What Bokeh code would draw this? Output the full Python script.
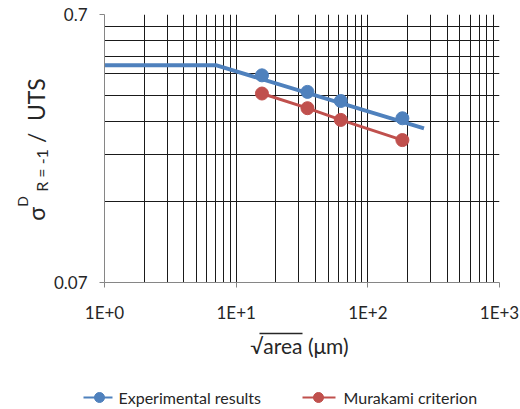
import math
from bokeh.plotting import figure
from bokeh.layouts import column, row
from bokeh.models import FixedTicker
from bokeh.core.properties import value
from bokeh.embed import file_html
from bokeh.resources import INLINE

# ---- data ----
size_um = [15.7, 34.8, 62.3, 183.0]          # sqrt(area) in micrometres
experimental = [0.415, 0.360, 0.333, 0.287]   # experimental results
murakami = [0.355, 0.313, 0.283, 0.238]       # Murakami criterion
model_x = [1.0, 7.0, 267.0]                   # blue model curve
model_y = [0.453, 0.453, 0.263]

x_major = [1, 10, 100, 1000]
x_labels = ["1E+0", "1E+1", "1E+2", "1E+3"]
x_minor = [2, 3, 4, 5, 6, 7, 8, 9, 20, 30, 40, 50, 60, 70, 80, 90,
           200, 300, 400, 500, 600, 700, 800, 900]
y_major = [0.07, 0.7]
y_labels = ["0.07", "0.7"]
y_minor = [0.14, 0.21, 0.28, 0.35, 0.42, 0.49, 0.56, 0.63]

series_names = ["Experimental results", "Murakami criterion"]

BLUE = "#4F81BD"
RED = "#C0504D"
TXT = "#262626"
FONT = "Lato"

LEFT_W, TOP_H, BOT_H, TOTAL_W = 50, 325, 84, 520
FRAME_TOP, FRAME_BOTTOM = 14, 283


def blank(width, height, yspan, **kw):
    f = figure(width=width, height=height, x_range=(0, width), y_range=(0, yspan),
               x_axis_type=None, y_axis_type=None, output_backend="svg",
               toolbar_location=None, **kw)
    f.outline_line_color = None
    f.background_fill_color = "white"
    f.border_fill_color = "white"
    return f


# ---- main chart ----
p = figure(width=TOTAL_W - LEFT_W, height=TOP_H, x_axis_type="log", y_axis_type="log",
           x_range=(1, 1000), y_range=(0.07, 0.7),
           output_backend="svg", toolbar_location=None,
           min_border_left=103 - LEFT_W, min_border_right=21,
           min_border_top=FRAME_TOP, min_border_bottom=TOP_H - FRAME_BOTTOM)
p.outline_line_color = None
p.background_fill_color = "white"

xt = FixedTicker(ticks=x_major, minor_ticks=x_minor)
yt = FixedTicker(ticks=y_major, minor_ticks=y_minor)
p.xaxis.ticker = xt
p.yaxis.ticker = yt
p.xgrid.ticker = xt
p.ygrid.ticker = yt
p.xaxis.major_label_overrides = dict(zip(x_major, x_labels))
p.yaxis.major_label_overrides = dict(zip(y_major, y_labels))

for ax in (p.xaxis[0], p.yaxis[0]):
    ax.axis_line_color = "#868686"
    ax.major_tick_line_color = "#868686"
    ax.major_tick_out = 5
    ax.major_tick_in = 0
    ax.minor_tick_out = 0
    ax.minor_tick_in = 0
    ax.major_label_text_font = FONT
    ax.major_label_text_font_size = "17px"
    ax.major_label_text_color = TXT
p.xaxis.major_label_standoff = 14
p.yaxis.major_label_standoff = 12

for g in (p.xgrid[0], p.ygrid[0]):
    g.grid_line_color = "#1a1a1a"
    g.grid_line_width = 1
    g.minor_grid_line_color = "#1a1a1a"
    g.minor_grid_line_width = 1

p.line(size_um, murakami, line_color=RED, line_width=3)
p.scatter(size_um, murakami, size=13, fill_color=RED, line_color=RED)
p.line(model_x, model_y, line_color=BLUE, line_width=4)
p.scatter(size_um, experimental, size=13, fill_color=BLUE, line_color=BLUE)

# ---- y-axis title: sigma^D_{R = -1} / UTS (rotated) ----
# this panel's frame is aligned with the chart frame (image y 14..283)
yt_fig = blank(LEFT_W, TOP_H, FRAME_BOTTOM - FRAME_TOP,
               min_border_left=0, min_border_right=0,
               min_border_top=FRAME_TOP, min_border_bottom=TOP_H - FRAME_BOTTOM)
pieces = [("σ", 35, 221, 23), ("D", 22, 207, 14), ("R = -1", 41, 192, 16),
          ("/", 35, 143, 23), ("UTS", 35, 121, 23)]
for txt, ix, iy, sz in pieces:
    yt_fig.text(x=[ix], y=[FRAME_BOTTOM - iy], text=[txt], angle=math.pi / 2,
                text_font=value(FONT), text_font_size=f"{sz}px",
                text_align="left", text_baseline="alphabetic", text_color=TXT)

# ---- x-axis title and legend ----
bot = blank(TOTAL_W, BOT_H, BOT_H, min_border=0)
Y0 = 409  # image y of the bottom edge of this panel
bot.text(x=[299], y=[Y0 - 345], text=["√area (μm)"], text_font=value(FONT),
         text_font_size="21px", text_align="center", text_baseline="middle",
         text_color=TXT)
bot.segment(x0=[259], y0=[Y0 - 333], x1=[302], y1=[Y0 - 333], line_color=TXT, line_width=1.5)

# legend keys
legend_colors = [BLUE, RED]
key_x0 = [83, 302]
key_x1 = [112, 335]
key_mid = [99, 318]
label_x = [118, 343]
LY = Y0 - 397
bot.segment(x0=key_x0, y0=[LY, LY], x1=key_x1, y1=[LY, LY],
            line_color=legend_colors, line_width=2)
bot.scatter(x=key_mid, y=[LY, LY], size=10, fill_color=legend_colors,
            line_color=legend_colors)
bot.text(x=label_x, y=[LY, LY], text=series_names, text_font=value(FONT),
         text_font_size="16px", text_align="left", text_baseline="middle",
         text_color=TXT)

layout = column(row(yt_fig, p), bot)
open("out.html", "w").write(file_html(layout, INLINE))
